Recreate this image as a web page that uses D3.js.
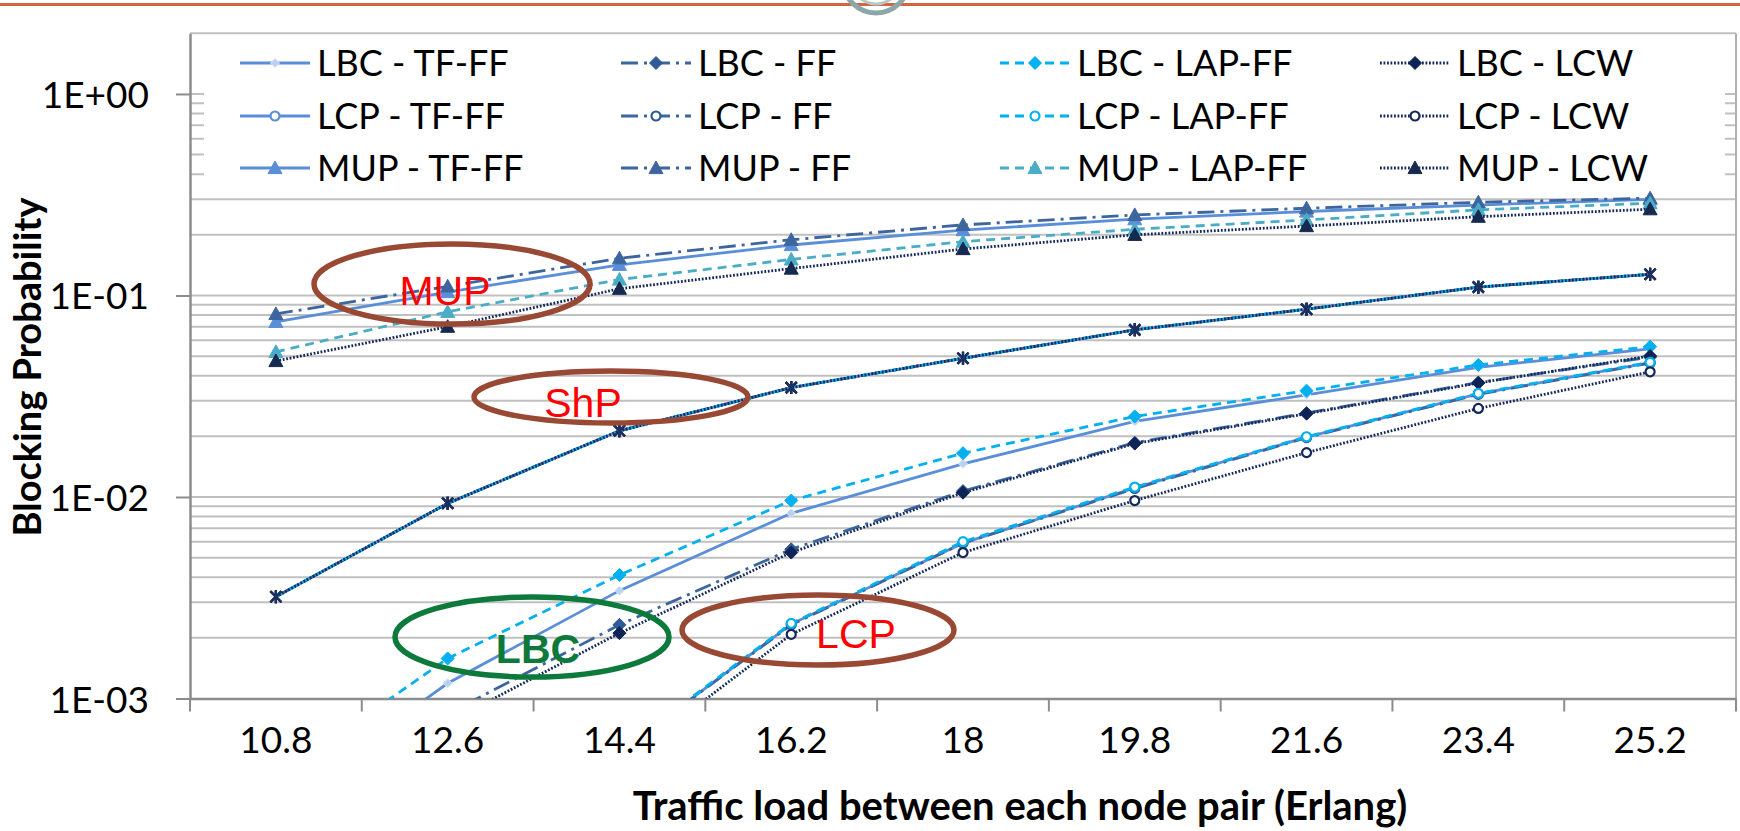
<!DOCTYPE html>
<html><head><meta charset="utf-8">
<script src="https://cdn.jsdelivr.net/npm/d3@7"></script>
<style>body{margin:0;background:#fff;} svg{display:block}</style>
</head><body>
<svg id="c" width="1740" height="831"></svg>
<script>
// ---------------- DATA ----------------
const categories = ["10.8","12.6","14.4","16.2","18","19.8","21.6","23.4","25.2"];
const yTickValues = [1, 0.1, 0.01, 0.001];
const yTickLabels = ["1E+00","1E-01","1E-02","1E-03"];

const lbcTF  = [0.00029, 0.00119, 0.00343, 0.0083, 0.0146, 0.0237, 0.0321, 0.0440, 0.0543];
const lbcFF  = [0.00024, 0.00084, 0.00232, 0.0055, 0.0107, 0.0186, 0.0261, 0.0370, 0.0495];
const lbcLAP = [0.00040, 0.00158, 0.0041, 0.0096, 0.0165, 0.0251, 0.0337, 0.0452, 0.0557];
const lbcLCW = [0.00021, 0.00076, 0.00211, 0.0053, 0.0105, 0.0184, 0.0259, 0.0368, 0.0501];

const lcpTF  = [0.00005, 0.00015, 0.00054, 0.00234, 0.0059, 0.0111, 0.0198, 0.0325, 0.0464];
const lcpFF  = [0.00005, 0.00015, 0.00054, 0.00232, 0.0059, 0.0110, 0.0197, 0.0323, 0.0462];
const lcpLAP = [0.00005, 0.00015, 0.00055, 0.00236, 0.0060, 0.0112, 0.0199, 0.0327, 0.0466];
const lcpLCW = [0.00004, 0.00012, 0.00047, 0.00208, 0.0053, 0.0096, 0.0166, 0.0275, 0.0418];

const mupTF  = [0.074, 0.104, 0.142, 0.178, 0.211, 0.239, 0.261, 0.281, 0.300];
const mupFF  = [0.081, 0.111, 0.153, 0.189, 0.224, 0.251, 0.271, 0.290, 0.304];
const mupLAP = [0.0525, 0.083, 0.120, 0.151, 0.185, 0.213, 0.237, 0.266, 0.287];
const mupLCW = [0.0473, 0.070, 0.108, 0.136, 0.170, 0.200, 0.221, 0.246, 0.268];

const shpTF  = [0.0032, 0.0093, 0.0213, 0.0349, 0.0488, 0.0675, 0.0855, 0.110, 0.1274];
const shpFF  = [0.0032, 0.0093, 0.0213, 0.0349, 0.0488, 0.0675, 0.0855, 0.110, 0.1274];
const shpLAP = [0.0032, 0.0093, 0.0213, 0.0349, 0.0488, 0.0675, 0.0855, 0.110, 0.1274];
const shpLCW = [0.0032, 0.0093, 0.0213, 0.0349, 0.0488, 0.0675, 0.0855, 0.110, 0.1274];

const xTitle = "Traffic load between each node pair (Erlang)";
const yTitle = "Blocking Probability";

// ---------------- STYLES ----------------
const lineStyles = {
  tf:  {color:"#5a8ed8", dash:null},
  ff:  {color:"#3d669f", dash:"17,6,3,6"},
  lap: {color:"#00b0f0", dash:"9,6"},
  lapMup: {color:"#4bacc6", dash:"9,6"},
  lcw: {color:"#14295a", dash:"1.8,1.7"}
};

const series = [
  {name:"LBC - TF-FF",  v:lbcTF,  s:"tf",  m:"smalldiamond", mc:"#b9d0f0"},
  {name:"LBC - FF",     v:lbcFF,  s:"ff",  m:"diamond", mc:"#2f5a96"},
  {name:"LBC - LAP-FF", v:lbcLAP, s:"lap", m:"diamond", mc:"#00b0f0"},
  {name:"LBC - LCW",    v:lbcLCW, s:"lcw", m:"diamond", mc:"#0d2356"},
  {name:"LCP - TF-FF",  v:lcpTF,  s:"tf",  m:"circle", mc:"#5a8ed8"},
  {name:"LCP - FF",     v:lcpFF,  s:"ff",  m:"circle", mc:"#2f5a96"},
  {name:"LCP - LAP-FF", v:lcpLAP, s:"lap", m:"circle", mc:"#00b0f0"},
  {name:"LCP - LCW",    v:lcpLCW, s:"lcw", m:"circle", mc:"#14295a"},
  {name:"MUP - TF-FF",  v:mupTF,  s:"tf",  m:"triangle", mc:"#5a8ed8"},
  {name:"MUP - FF",     v:mupFF,  s:"ff",  m:"triangle", mc:"#3d669f"},
  {name:"MUP - LAP-FF", v:mupLAP, s:"lapMup", m:"triangle", mc:"#4bacc6"},
  {name:"MUP - LCW",    v:mupLCW, s:"lcw", m:"triangle", mc:"#16294f"}
];
const shpSeries = [
  {v:shpTF, s:"tf"}, {v:shpFF, s:"ff"}, {v:shpLAP, s:"lap"}, {v:shpLCW, s:"lcw"}
];

// ---------------- CHART ----------------
const svg = d3.select("#c");
const L = 190, R = 1736, T = 33.3, B = 698.5;
const x = d3.scaleBand().domain(categories).range([L, R]);
const y = d3.scaleLog().domain([0.001, 2]).range([B, T]);
const cx = c => x(c) + x.bandwidth()/2;

// top decoration line + logo
svg.append("line").attr("x1",0).attr("x2",1740).attr("y1",4.5).attr("y2",4.5)
  .attr("stroke","#d4643e").attr("stroke-width",3);
svg.append("circle").attr("cx",876).attr("cy",-20).attr("r",33).attr("fill","none")
  .attr("stroke","#8ca7a7").attr("stroke-width",5);
svg.append("circle").attr("cx",876).attr("cy",-20).attr("r",24).attr("fill","none")
  .attr("stroke","#b5c7c7").attr("stroke-width",3);

// gridlines
const grid = [];
for (let k = -3; k <= -1; k++) for (let m = 2; m <= 9; m++) grid.push(m*Math.pow(10,k));
grid.push(0.01, 0.1, 1, 2);
svg.append("g").selectAll("line").data(grid).join("line")
  .attr("x1", L).attr("x2", R).attr("y1", d=>y(d)).attr("y2", d=>y(d))
  .attr("stroke", "#c0c0c0").attr("stroke-width", 2);
// right border
svg.append("line").attr("x1",R).attr("x2",R).attr("y1",T).attr("y2",B)
  .attr("stroke","#b0b0b0").attr("stroke-width",2);

// y axis
const yAxis = svg.append("g").attr("transform",`translate(${L},0)`)
  .call(d3.axisLeft(y).tickValues(yTickValues).tickFormat((d,i)=>yTickLabels[i])
        .tickSize(14).tickSizeOuter(0).tickPadding(27));
yAxis.select(".domain").attr("stroke","#8c8c8c").attr("stroke-width",2.5);
yAxis.selectAll(".tick line").attr("stroke","#8c8c8c").attr("stroke-width",2);
yAxis.selectAll(".tick text").attr("dy",null).attr("y",13.5)
  .attr("font-family","Lato").attr("font-size",37).attr("fill","#000");

// x axis
const xAxis = svg.append("g").attr("transform",`translate(0,${B})`)
  .call(d3.axisBottom(x).tickSize(0).tickSizeOuter(0));
xAxis.select(".domain").attr("stroke","#8c8c8c").attr("stroke-width",2.5);
xAxis.selectAll(".tick text").attr("dy",null).attr("y",54.5)
  .attr("font-family","Lato").attr("font-size",37).attr("fill","#000");
svg.append("g").selectAll("line").data(d3.range(categories.length+1)).join("line")
  .attr("x1", i=>L + i*x.step()).attr("x2", i=>L + i*x.step())
  .attr("y1", B).attr("y2", B+13).attr("stroke","#8c8c8c").attr("stroke-width",2);

// titles
svg.append("text").attr("x",1020).attr("y",820).attr("text-anchor","middle")
  .attr("font-family","Lato").attr("font-weight","bold").attr("font-size",40).text(xTitle);
svg.append("text").attr("transform","translate(41,367) rotate(-90)").attr("text-anchor","middle")
  .attr("font-family","Lato").attr("font-weight","bold").attr("font-size",38).text(yTitle);

// clip
svg.append("clipPath").attr("id","plot").append("rect")
  .attr("x",L).attr("y",T).attr("width",R-L).attr("height",B-T);
const plot = svg.append("g").attr("clip-path","url(#plot)");

function markerPath(type){
  if (type==="diamond") { const r=6.5; return `M0,${-r}L${r},0L0,${r}L${-r},0Z`; }
  if (type==="smalldiamond") { const r=4.5; return `M0,${-r}L${r},0L0,${r}L${-r},0Z`; }
  if (type==="triangle") { const r=7; return `M0,${-r}L${r},${r*0.8}L${-r},${r*0.8}Z`; }
  if (type==="star") { const r=5.5; return `M${-r},${-r}L${r},${r}M${-r},${r}L${r},${-r}M0,${-r-1}L0,${r+1}`; }
  return null;
}
function drawMarker(g, type, color){
  if (type==="circle") {
    g.append("circle").attr("r",4.5).attr("fill","#fff").attr("stroke",color).attr("stroke-width",2.2);
  } else if (type==="star") {
    g.append("path").attr("d",markerPath(type)).attr("fill","none").attr("stroke",color).attr("stroke-width",2.2);
  } else {
    g.append("path").attr("d",markerPath(type)).attr("fill",color)
      .attr("stroke", type==="smalldiamond" ? "#dbe7f7" : color).attr("stroke-width",1);
  }
}

const line = d3.line().x((d,i)=>cx(categories[i])).y(d=>y(d));

function drawSeries(vals, st, mtype, mcolor){
  const ls = lineStyles[st];
  plot.append("path").datum(vals).attr("d",line).attr("fill","none")
    .attr("stroke",ls.color).attr("stroke-width",2.8)
    .attr("stroke-dasharray",ls.dash);
  vals.forEach((v,i)=>{
    const g = plot.append("g").attr("transform",`translate(${cx(categories[i])},${y(v)})`);
    drawMarker(g, mtype, mcolor);
  });
}
series.forEach(s => drawSeries(s.v, s.s, s.m, s.mc));
shpSeries.forEach(s => drawSeries(s.v, s.s, "star", "#1c2f5e"));

// legend
const legend = svg.append("g");
legend.append("rect").attr("x",204).attr("y",35).attr("width",1521).attr("height",155).attr("fill","#fff");
const colX = [240, 621, 1000, 1380];
const rowY = [63, 116, 168];
series.forEach((s, idx)=>{
  const row = Math.floor(idx/4), col = idx%4;
  const x0 = colX[col], yy = rowY[row];
  const ls = lineStyles[s.s];
  legend.append("line").attr("x1",x0).attr("x2",x0+70).attr("y1",yy).attr("y2",yy)
    .attr("stroke",ls.color).attr("stroke-width",2.8).attr("stroke-dasharray",ls.dash);
  const g = legend.append("g").attr("transform",`translate(${x0+35},${yy})`);
  drawMarker(g, s.m, s.mc);
  legend.append("text").attr("x",x0+77).attr("y",yy+12.5)
    .attr("font-family","Lato").attr("font-size",36).attr("fill","#000").text(s.name);
});

// annotations
const ann = [
  {cx:452, cy:284, rx:138, ry:40, stroke:"#984833", text:"MUP", tx:445, ty:305, color:"#ff0000", bold:false},
  {cx:611, cy:397, rx:137, ry:26, stroke:"#984833", text:"ShP", tx:583, ty:417, color:"#ff0000", bold:false},
  {cx:532, cy:637, rx:137, ry:40, stroke:"#0d7a3c", text:"LBC", tx:538, ty:663, color:"#0d7a3c", bold:true},
  {cx:818, cy:630, rx:136, ry:35, stroke:"#984833", text:"LCP", tx:856, ty:648, color:"#ff0000", bold:false}
];
ann.forEach(a=>{
  svg.append("ellipse").attr("cx",a.cx).attr("cy",a.cy).attr("rx",a.rx).attr("ry",a.ry)
    .attr("fill","none").attr("stroke",a.stroke).attr("stroke-width",5.5);
  svg.append("text").attr("x",a.tx).attr("y",a.ty).attr("text-anchor","middle")
    .attr("font-family","Liberation Sans").attr("font-size",41)
    .attr("font-weight",a.bold?"bold":"normal").attr("fill",a.color).text(a.text);
});
</script>
</body></html>
